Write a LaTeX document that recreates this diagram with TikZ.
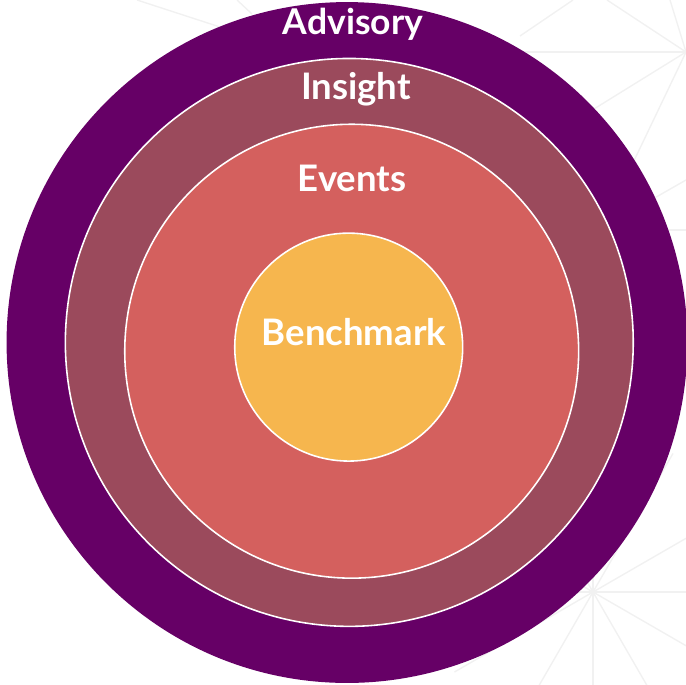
\documentclass[tikz,border=0pt]{standalone}
\usepackage{fontspec}
\setmainfont{Lato}
\definecolor{advisorycol}{HTML}{660066}
\definecolor{insightcol}{HTML}{9B4A5C}
\definecolor{eventscol}{HTML}{D4605E}
\definecolor{benchcol}{HTML}{F6B64E}
\definecolor{webcol}{HTML}{F1F1F1}
\tikzset{
	ring/.style={circle, inner sep=0pt, outer sep=0pt, draw=white, line width=0.9pt},
	tier/.style={text=white, font=\bfseries\fontsize{20.8}{24}\selectfont, anchor=base, inner sep=0pt},
	web/.style={draw=webcol, line width=0.8pt}
}
\begin{document}
\begin{tikzpicture}[x=0.02cm, y=-0.02cm]
	\useasboundingbox (0,0) rectangle (686,684);
	\clip (0,0) rectangle (686,684);
	
	% faint web in the background
	\coordinate (hub) at (593,592);
	\coordinate (corner) at (686,52);
	\foreach \a in {0,30,...,330}
		\draw[web] (hub) -- ++(\a:160);
	\draw[web] (corner) -- (520,52);
	\draw[web] (corner) -- (560,130);
	\draw[web] (corner) -- (620,190);
	\draw[web] (corner) -- (607,0);
	\draw[web] (corner) -- (670,0);
	\draw[web] (520,36) -- (573,0);
	\draw[web] (630,212) -- (686,180);
	\draw[web] (640,230) -- (686,230);
	\draw[web] (137,0) -- (220,27);
	\draw[web] (237,0) -- (252,14);
	
	\node[ring, draw=none, fill=advisorycol, minimum size=13.62cm] (advisory) at (347,342.5) {};
	\node[ring, fill=insightcol, minimum size=11.36cm] (insight) at (349.3,342.4) {};
	\node[ring, fill=eventscol, minimum size=9.08cm] (events) at (351.7,351.2) {};
	\node[ring, fill=benchcol, minimum size=4.56cm] (benchmark) at (348.7,347.1) {};
	
	\node[tier, font=\bfseries\fontsize{20.2}{24}\selectfont] (advisorylabel) at (353,34) {Advisory};
	\node[tier] (insightlabel) at (356,99.7) {Insight};
	\node[tier] (eventslabel) at (352,191) {Events};
	\node[tier] (benchmarklabel) at (354,345.6) {Benchmark};
\end{tikzpicture}
\end{document}
